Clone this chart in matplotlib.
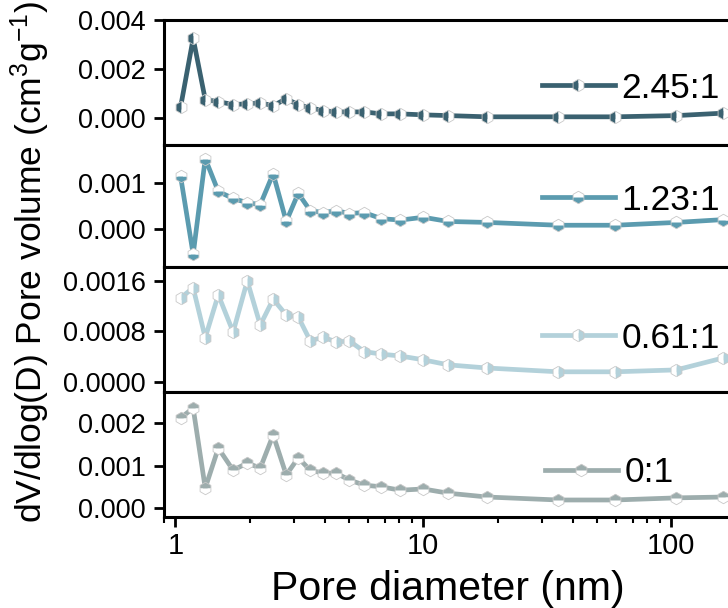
import matplotlib
matplotlib.use("Agg")
import matplotlib.pyplot as plt
from matplotlib.ticker import FixedLocator, LogLocator, NullFormatter, FuncFormatter

plt.rcParams['font.family'] = ['Liberation Sans', 'DejaVu Sans']
plt.rcParams['mathtext.fontset'] = 'custom'
plt.rcParams['mathtext.rm'] = 'Liberation Sans'
plt.rcParams['mathtext.it'] = 'Liberation Sans'

pore_d = [1.05, 1.18, 1.32, 1.49, 1.71, 1.95, 2.20, 2.48, 2.80, 3.13, 3.50, 3.95,
          4.46, 5.03, 5.78, 6.77, 8.08, 10.0, 12.6, 18.1, 35.0, 59.4, 104.8, 162.0]

s_245 = [0.00045, 0.00325, 0.00075, 0.00067, 0.00055, 0.00058, 0.00062, 0.00050,
         0.00079, 0.00054, 0.00042, 0.00030, 0.00025, 0.00025, 0.00025, 0.00017,
         0.00017, 0.00013, 0.00010, 0.00005, 0.00005, 0.00005, 0.00010, 0.00020]
s_123 = [0.00113, -0.00053, 0.00151, 0.00081, 0.00066, 0.00057, 0.00053, 0.00119,
         0.00017, 0.00077, 0.00040, 0.00036, 0.00040, 0.00034, 0.00036, 0.00023,
         0.00020, 0.00026, 0.00017, 0.00015, 0.00009, 0.00009, 0.00015, 0.00021]
s_061 = [0.00133, 0.00149, 0.00070, 0.00138, 0.00079, 0.00160, 0.00090, 0.00131,
         0.00106, 0.00103, 0.00065, 0.00071, 0.00063, 0.00065, 0.00048, 0.00044,
         0.00041, 0.00035, 0.00027, 0.00022, 0.00016, 0.00016, 0.00019, 0.00038]
s_0 = [0.00212, 0.00235, 0.00047, 0.00141, 0.00089, 0.00106, 0.00094, 0.00172,
       0.00078, 0.00118, 0.00089, 0.00082, 0.00082, 0.00066, 0.00054, 0.00050,
       0.00042, 0.00045, 0.00035, 0.00026, 0.00019, 0.00019, 0.00024, 0.00026]

labels = ['2.45:1', '1.23:1', '0.61:1', '0:1']
series = [s_245, s_123, s_061, s_0]
colors = ['#3A6170', '#5B9BAF', '#B3D1DA', '#9DADAD']
fills = ['left', 'bottom', 'right', 'top']
ylims = [(-0.0011, 0.0040), (-0.0008, 0.0018), (-0.00016, 0.00182), (-0.00021, 0.00273)]
yticks = [[0.0, 0.002, 0.004], [0.0, 0.001], [0.0, 0.0008, 0.0016], [0.0, 0.001, 0.002]]
yfmts = ['%.3f', '%.3f', '%.4f', '%.3f']

W, H = 728, 608
fig = plt.figure(figsize=(W / 100, H / 100), dpi=100)

tops = [20, 145, 267, 392]
bots = [145, 267, 392, 517]
left_px, right_px = 164, 770
legend_pos = [(542, 88), (542, 200), (542, 338), (545, 473)]

axes = []
for i in range(4):
    rect = [left_px / W, (H - bots[i]) / H, (right_px - left_px) / W, (bots[i] - tops[i]) / H]
    ax = fig.add_axes(rect, sharex=axes[0] if axes else None)
    axes.append(ax)
    ax.plot(pore_d, series[i], color=colors[i], lw=3.4, marker='h', ms=9,
            fillstyle=fills[i], markerfacecoloralt='white', markeredgecolor='#c8c8c8',
            markeredgewidth=0.6, label=labels[i])
    ax.set_xscale('log')
    ax.set_xlim(0.9, 250)
    ax.set_ylim(*ylims[i])
    ax.yaxis.set_major_locator(FixedLocator(yticks[i]))
    fmt = yfmts[i]
    ax.yaxis.set_major_formatter(FuncFormatter(lambda v, p, f=fmt: f % v))
    for sp in ax.spines.values():
        sp.set_linewidth(2.2)
    ax.tick_params(axis='y', direction='out', length=7, width=2, labelsize=19.5, pad=6)
    lx, ly = legend_pos[i]
    ax.legend(loc='center left', bbox_to_anchor=(lx / W, (H - ly) / H),
              bbox_transform=fig.transFigure, frameon=False, fontsize=25.5,
              handlelength=2.05, handletextpad=0.2, borderpad=0, borderaxespad=0)
    if i < 3:
        ax.tick_params(axis='x', which='both', bottom=False, labelbottom=False)

axb = axes[3]
axb.xaxis.set_major_locator(LogLocator(base=10))
axb.xaxis.set_minor_locator(LogLocator(base=10, subs=range(2, 10)))
axb.xaxis.set_minor_formatter(NullFormatter())
axb.xaxis.set_major_formatter(FuncFormatter(lambda v, p: '%g' % v))
axb.tick_params(axis='x', which='major', direction='out', length=7, width=2, labelsize=21, pad=4)
axb.tick_params(axis='x', which='minor', direction='out', length=4, width=1.5)
axb.set_xlabel('Pore diameter (nm)', fontsize=29.5, labelpad=2)
axb.xaxis.set_label_coords((448 - left_px) / (right_px - left_px), -0.42)

fig.text(30 / W, (H - 262) / H, r'dV/dlog(D) Pore volume (cm$^3$g$^{-1}$)',
         rotation=90, ha='center', va='center', fontsize=25.5)

fig.savefig('out.png', dpi=100)
